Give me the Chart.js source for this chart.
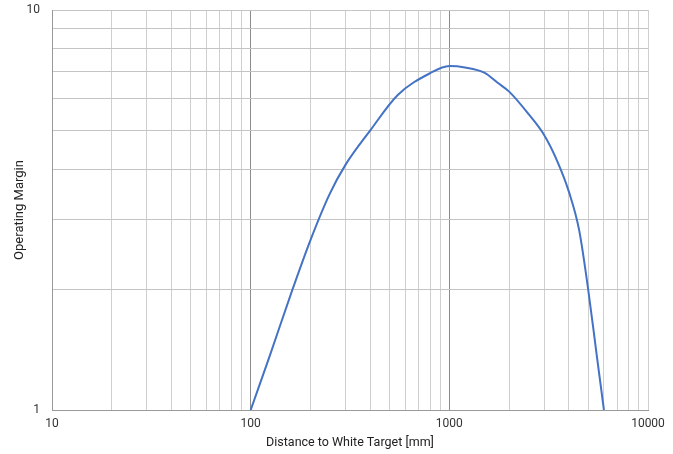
<!DOCTYPE html>
<html>
<head>
<meta charset="utf-8">
<script src="https://cdn.jsdelivr.net/npm/chart.js@4/dist/chart.umd.min.js"></script>
<style>
html,body{margin:0;padding:0;background:#fff;}
#wrap{width:673px;height:454px;}
</style>
</head>
<body>
<div id="wrap"><canvas id="c" width="673" height="454"></canvas></div>
<script>
const distances = [100, 125, 160, 200, 250, 300, 400, 550, 800, 1000, 1200, 1500, 1750, 2000, 2500, 3000, 3500, 4000, 4500, 5000, 5500, 6000];
const margins   = [1.0, 1.37, 1.96, 2.66, 3.47, 4.1, 5.0, 6.13, 6.95, 7.24, 7.18, 6.97, 6.58, 6.25, 5.5, 4.87, 4.18, 3.51, 2.82, 2.0, 1.39, 1.0];
const xTickValues = [10,20,30,40,50,60,70,80,90,100,200,300,400,500,600,700,800,900,1000,2000,3000,4000,5000,6000,7000,8000,9000,10000];
const yTickValues = [1,2,3,4,5,6,7,8,9,10];
const xLabeled = [10, 100, 1000, 10000];
const yLabeled = [1, 10];
const xTitle = 'Distance to White Target [mm]';
const yTitle = 'Operating Margin';

const FAMILY = "Roboto, sans-serif";
const points = distances.map((d, i) => ({x: d, y: margins[i]}));

new Chart(document.getElementById('c'), {
  type: 'scatter',
  data: {
    datasets: [{
      data: points,
      showLine: true,
      borderColor: '#4472C4',
      borderWidth: 2,
      pointRadius: 0,
      cubicInterpolationMode: 'monotone',
      fill: false
    }]
  },
  options: {
    responsive: false,
    animation: false,
    devicePixelRatio: 1,
    layout: {padding: {top: 10, right: 25, left: 0, bottom: 0}},
    plugins: {legend: {display: false}, tooltip: {enabled: false}},
    scales: {
      x: {
        type: 'logarithmic',
        min: 10, max: 10000,
        afterBuildTicks: s => { s.ticks = xTickValues.map(v => ({value: v})); },
        afterFit: s => { s.height = 44; s.paddingLeft = 0; s.paddingRight = 0; },
        ticks: {
          autoSkip: false, maxRotation: 0, padding: 7,
          color: '#333',
          font: {family: FAMILY, size: 12},
          callback: v => xLabeled.includes(v) ? String(v) : ''
        },
        grid: {
          color: c => (c.tick && (c.tick.value === 100 || c.tick.value === 1000)) ? '#8c8c8c' : '#cfcfcf',
          lineWidth: 1,
          drawTicks: false
        },
        border: {color: '#999', width: 1},
        title: {display: true, text: xTitle, color: '#222', font: {family: FAMILY, size: 12.5}, padding: {top: 0, bottom: 4}}
      },
      y: {
        type: 'logarithmic',
        min: 1, max: 10,
        afterBuildTicks: s => { s.ticks = yTickValues.map(v => ({value: v})); },
        afterFit: s => { s.width = 52; s.paddingTop = 0; s.paddingBottom = 0; },
        ticks: {
          autoSkip: false, padding: 12,
          color: '#333',
          font: {family: FAMILY, size: 12},
          callback: v => yLabeled.includes(v) ? String(v) : ''
        },
        grid: {color: '#c4c4c4', lineWidth: 1, drawTicks: false},
        border: {color: '#999', width: 1},
        title: {display: true, text: yTitle, color: '#222', font: {family: FAMILY, size: 13}, padding: {top: 12, bottom: 0}}
      }
    }
  }
});
</script>
</body>
</html>
